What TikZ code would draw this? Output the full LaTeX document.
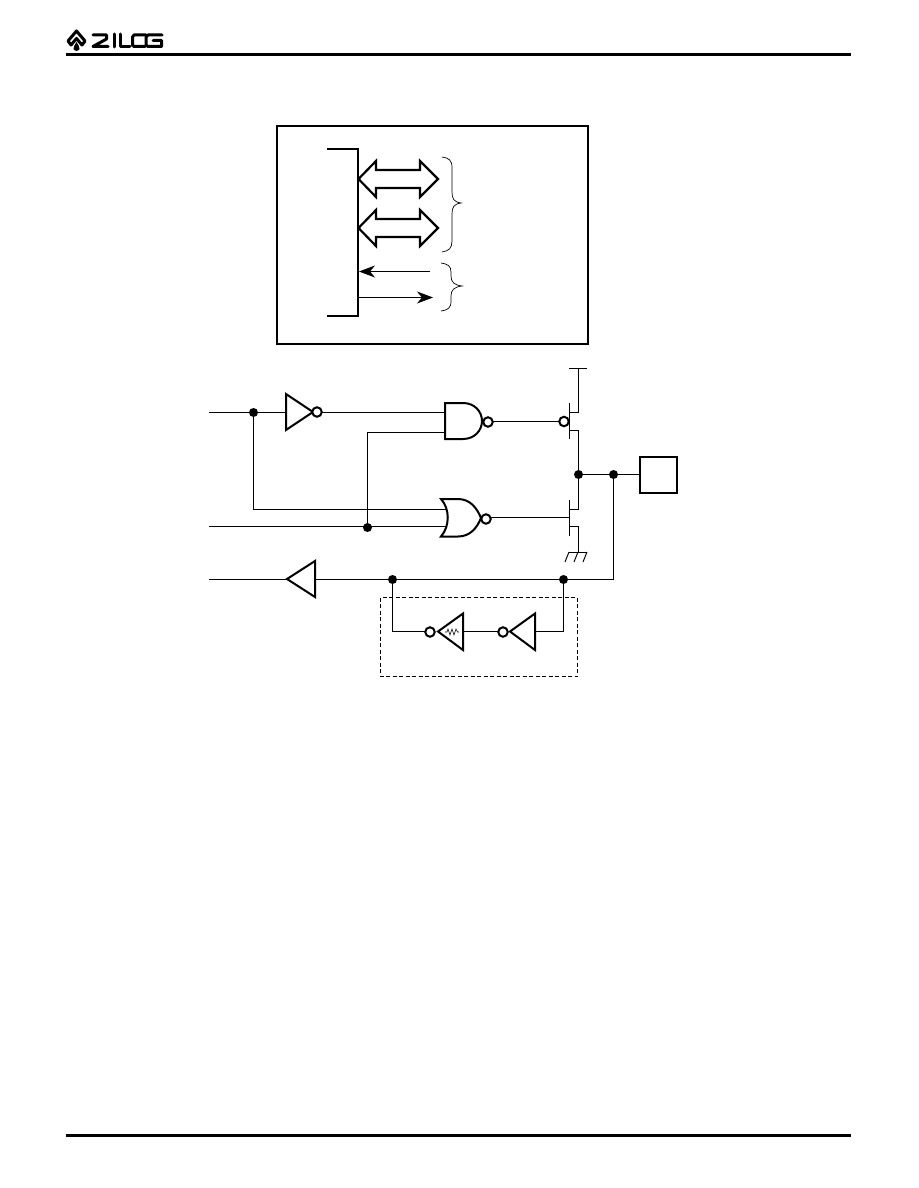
\documentclass[tikz,border=0pt]{standalone}
\usetikzlibrary{arrows.meta,calc}
\tikzset{
  wire/.style={line width=1pt},
  gate/.style={line width=2pt,line join=miter,fill=white},
  dotnode/.style={circle,fill=black,draw=none,inner sep=0pt,minimum size=9pt},
  bubble/.style={circle,draw=black,line width=2pt,fill=white,inner sep=0pt,minimum size=9.5pt,outer sep=0pt},
  busarrow/.style={line width=2.2pt,line join=miter,fill=white},
  thinarrow/.style={line width=1pt,-{Stealth[length=16pt,width=12pt,inset=5pt]}},
  brace/.style={line width=.7pt},
  rule/.style={line width=3pt},
  logo/.style={line width=3pt,line join=round,line cap=round},
  framebox/.style={draw,line width=2.2pt,inner sep=0pt,outer sep=0pt,anchor=north west}
}
\begin{document}
\begin{tikzpicture}[x=1pt,y=-1pt]
\useasboundingbox (0,0) rectangle (918,1188);
\fill[white] (0,0) rectangle (918,1188);
% header and footer
\coordinate (hl) at (66,55); \coordinate (hr) at (851,55);
\coordinate (fl) at (66,1135); \coordinate (fr) at (851,1135);
\draw[rule] (hl) -- (hr);
\draw[rule] (fl) -- (fr);
% logo
\draw[logo] (76.5,31) -- (68,41) -- (71,45) -- (76.5,38.5) -- (82,45) -- (85,41) -- cycle;
\fill (76.5,42) .. controls (78,45) and (80,47) .. (79.5,49) .. controls (78.5,51.5) and (74.5,51.5) .. (73.5,49) .. controls (73,47) and (75,45) .. (76.5,42) -- cycle;
\draw[logo] (93,35) -- (106.5,35) -- (106.5,39) -- (93,46.5) -- (108,46.5);
\draw[logo] (114,34) -- (114,47);
\draw[logo] (120,34) -- (120,46.5) -- (130,46.5);
\draw[logo] (146,35) -- (134,35) -- (132.5,37) -- (132.5,45) -- (134,46.5) -- (145,46.5);
\draw[logo] (162,35) -- (148,35) -- (146,37) -- (146,45) -- (148,46.5) -- (161.5,46.5) -- (161.5,40.5) -- (153,40.5);
% upper box
\node[framebox,minimum width=311pt,minimum height=218pt] (box) at (277,126) {};
\coordinate (bt) at (327,149); \coordinate (bb) at (327,316);
\draw[line width=2pt] (bt) -- (358,149) -- (358,316) -- (bb);
\draw[busarrow] (358.5,179) -- (376,161) -- (376,170) -- (420,170) -- (420,161) -- (438,179) -- (420,197) -- (420,188) -- (376,188) -- (376,197) -- cycle;
\draw[busarrow] (358.5,228) -- (376,210) -- (376,219) -- (420,219) -- (420,210) -- (438,228) -- (420,246) -- (420,237) -- (376,237) -- (376,246) -- cycle;
\coordinate (ta) at (430,271.5); \coordinate (tb) at (359,271.5);
\coordinate (tc) at (358,297.5); \coordinate (td) at (433,297.5);
\draw[thinarrow] (ta) -- (tb);
\draw[thinarrow] (tc) -- (td);
\draw[brace] (442,157) .. controls (449,158) and (452,160) .. (452,168) -- (452,192) .. controls (452,199) and (454,202) .. (461,203) .. controls (454,204) and (452,207) .. (452,214) -- (452,241) .. controls (452,248) and (449,251) .. (442,252);
\draw[brace] (441,263) .. controls (448,264) and (451,266) .. (451,272) -- (451,276) .. controls (451,282) and (454,285) .. (462,286) .. controls (454,287) and (451,290) .. (451,296) -- (451,301) .. controls (451,308) and (448,310) .. (441,311);
% left terminals
\coordinate (ia) at (209,412.5); \coordinate (ib) at (209,526.5); \coordinate (ic) at (209,579.5);
% dots
\node[dotnode] (d1) at (253.5,412.5) {};
\node[dotnode] (d2) at (367.5,527.5) {};
\node[dotnode] (d3) at (578.5,474.5) {};
\node[dotnode] (d4) at (613.5,474.5) {};
\node[dotnode] (d5) at (563.5,579.5) {};
\node[dotnode] (d6) at (392.5,579.5) {};
% wires
\coordinate (nandA) at (445,412.5); \coordinate (nandB) at (445,432.5);
\coordinate (norA) at (447,509.5); \coordinate (norB) at (447,526.5);
\coordinate (pg) at (564,421.5); \coordinate (ng) at (569.5,517.5);
\coordinate (nandO) at (488,421.5); \coordinate (norO) at (486,517.5);
\draw[wire] (ia) -- (d1) -- (nandA);
\draw[wire] (d1) |- (norA);
\draw[wire] (ib) -- (norB);
\draw[wire] (d2) |- (nandB);
\draw[wire] (nandO) -- (pg);
\draw[wire] (norO) -- (ng);
\draw[wire] (d3) -- (d4) -- (640,474.5);
\draw[wire] (d4) |- (d5);
\draw[wire] (ic) -- (d6) -- (d5);
\draw[wire] (d6) |- (429,631.5);
\draw[wire] (d5) |- (535,631.5);
\draw[wire] (463,631.5) -- (502,631.5);
% gates
\draw[gate] (286,394) -- (313,412) -- (286,430) -- cycle;
\node[bubble] (b1) at (317,412) {};
\draw[gate] (445,403) -- (463,403) .. controls (475,403) and (482,412) .. (482,421) .. controls (482,430) and (475,439) .. (463,439) -- (445,439) -- cycle;
\node[bubble] (b2) at (488,422) {};
\draw[gate] (441,499) -- (458,499) .. controls (470,499) and (477,508) .. (481,518) .. controls (477,528) and (470,536.5) .. (458,536.5) -- (441,536.5) .. controls (450,526) and (450,509) .. (441,499) -- cycle;
\node[bubble] (b3) at (486,519) {};
\draw[gate] (287,579) -- (315,561) -- (315,597) -- cycle;
% transistors
\draw[wire] (569.5,403) -- (569.5,439);
\draw[wire] (569.5,412.5) -- (578.5,412.5) -- (578.5,368.5);
\coordinate (vl) at (569,368.5); \coordinate (vr) at (587,368.5);
\draw[wire] (vl) -- (vr);
\draw[wire] (569.5,430.5) -- (578.5,430.5) -- (578.5,509.5) -- (569.5,509.5);
\node[bubble] (b4) at (564,421.5) {};
\draw[wire] (569.5,500) -- (569.5,536);
\draw[wire] (569.5,526.5) -- (578.5,526.5) -- (578.5,552.5);
\coordinate (gl) at (569,552.5); \coordinate (gr) at (587,552.5);
\draw[wire] (gl) -- (gr);
\draw[wire] (569,552) -- (565,562) (578,552) -- (574,562) (587,552) -- (583,562);
% pad
\node[framebox,minimum width=37pt,minimum height=36pt] (pad) at (640,457) {};
% keeper
\draw[line width=1pt,dash pattern=on 4pt off 2.5pt] (380.5,597.5) rectangle (577.5,676.5);
\draw[gate] (438,631.5) -- (463,613.5) -- (463,650) -- cycle;
\draw[line width=.6pt] (445,632) -- (447,632) -- (448,629) -- (450,635) -- (452,629) -- (454,635) -- (456,629) -- (457.5,632) -- (459,632);
\node[bubble] (b5) at (430,632) {};
\draw[gate] (510,631.5) -- (535,613.5) -- (535,650) -- cycle;
\node[bubble] (b6) at (503,632) {};
\end{tikzpicture}
\end{document}
